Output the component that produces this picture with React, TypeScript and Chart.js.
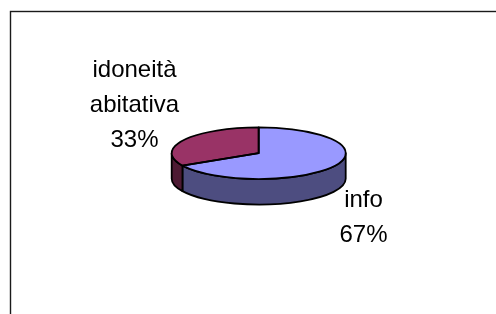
import React, { useEffect, useRef } from "react";
import { Chart, registerables } from "chart.js";

Chart.register(...registerables);

// ---- data ----
const categories = ["info", "idoneità abitativa"];
const values = [67, 33];
const topColors = ["#9999FF", "#993366"];
const sideColors = ["#4D4D80", "#4D1A33"];

// ---- layout / style ----
const W = 496;
const H = 314;
const TILT = 0.297; // vertical squash of the pie
const DEPTH = 25.5; // px height of the 3D wall
const OUTLINE = 1.8;
const FONT = '24px "Liberation Sans", Arial, sans-serif';
const LINE_H = 35;
// label anchor (center x, first baseline) per category
const labelPos = [
  { x: 363.5, y: 207.3 },
  { x: 134.5, y: 77.3 },
];

function frontSegments(a0: number, a1: number): [number, number][] {
  const out: [number, number][] = [];
  for (let k = -1; k <= 1; k++) {
    const lo = 2 * Math.PI * k;
    const hi = lo + Math.PI;
    const s = Math.max(a0, lo);
    const e = Math.min(a1, hi);
    if (e > s + 1e-6) out.push([s, e]);
  }
  return out;
}

const pie3d = {
  id: "pie3d",
  beforeDraw(chart: any) {
    const ctx = chart.ctx;
    ctx.save();
    ctx.fillStyle = "#ffffff";
    ctx.fillRect(0, 0, W, H);
    ctx.strokeStyle = "#1a1a1a";
    ctx.lineWidth = 1.4;
    ctx.strokeRect(10.5, 11.5, W + 20, H + 20);
    ctx.restore();
  },
  beforeDatasetsDraw(chart: any) {
    const ctx = chart.ctx;
    const meta = chart.getDatasetMeta(0);
    const arcs = meta.data;
    if (!arcs.length) return;
    const cx = arcs[0].x;
    const cy = arcs[0].y;
    const D = DEPTH / TILT;
    arcs.forEach((arc: any, i: number) => {
      const p = arc.getProps(["startAngle", "endAngle", "outerRadius"], true);
      const segs = frontSegments(p.startAngle, p.endAngle);
      segs.forEach(([s, e]) => {
        ctx.save();
        ctx.translate(cx, cy);
        ctx.scale(1, TILT);
        ctx.translate(-cx, -cy);
        ctx.beginPath();
        ctx.arc(cx, cy, p.outerRadius, s, e, false);
        ctx.arc(cx, cy + D, p.outerRadius, e, s, true);
        ctx.closePath();
        ctx.restore();
        ctx.save();
        ctx.fillStyle = sideColors[i % sideColors.length];
        ctx.fill();
        ctx.strokeStyle = "#000";
        ctx.lineWidth = OUTLINE;
        ctx.lineJoin = "round";
        ctx.stroke();
        ctx.restore();
      });
    });
    // squash the top faces drawn by Chart.js
    ctx.save();
    ctx.translate(cx, cy);
    ctx.scale(1, TILT);
    ctx.translate(-cx, -cy);
  },
  afterDatasetsDraw(chart: any) {
    const ctx = chart.ctx;
    const meta = chart.getDatasetMeta(0);
    const arcs = meta.data;
    if (!arcs.length) return;
    ctx.restore();
    const cx = arcs[0].x;
    const cy = arcs[0].y;
    arcs.forEach((arc: any) => {
      const p = arc.getProps(["startAngle", "endAngle", "outerRadius"], true);
      ctx.save();
      ctx.translate(cx, cy);
      ctx.scale(1, TILT);
      ctx.translate(-cx, -cy);
      ctx.beginPath();
      ctx.moveTo(cx, cy);
      ctx.arc(cx, cy, p.outerRadius, p.startAngle, p.endAngle, false);
      ctx.closePath();
      ctx.restore();
      ctx.save();
      ctx.strokeStyle = "#000";
      ctx.lineWidth = OUTLINE;
      ctx.lineJoin = "round";
      ctx.stroke();
      ctx.restore();
    });
    // labels
    const data: number[] = chart.data.datasets[0].data;
    const total = data.reduce((a, b) => a + b, 0);
    ctx.save();
    ctx.font = FONT;
    ctx.fillStyle = "#000";
    ctx.textAlign = "center";
    ctx.textBaseline = "alphabetic";
    (chart.data.labels as string[]).forEach((lab, i) => {
      const pct = Math.round((data[i] / total) * 100) + "%";
      const lines = [...lab.split(" "), pct];
      const pos = labelPos[i];
      lines.forEach((t, j) => ctx.fillText(t, pos.x, pos.y + j * LINE_H));
    });
    ctx.restore();
  },
};

export default function App() {
  const ref = useRef<HTMLCanvasElement | null>(null);
  useEffect(() => {
    if (!ref.current) return;
    const chart = new Chart(ref.current, {
      type: "pie",
      data: {
        labels: categories,
        datasets: [
          {
            data: values,
            backgroundColor: topColors,
            borderWidth: 0,
            clip: false as any,
          },
        ],
      },
      options: {
        responsive: false,
        animation: false,
        devicePixelRatio: 1,
        events: [],
        layout: {
          padding: { left: 171.7, right: 150.3, top: 66.2, bottom: 73.8 },
        },
        plugins: {
          legend: { display: false },
          tooltip: { enabled: false },
        },
      },
      plugins: [pie3d],
    });
    return () => chart.destroy();
  }, []);
  return (
    <div style={{ position: "absolute", left: 0, top: 0, width: W, height: H }}>
      <canvas ref={ref} width={W} height={H} style={{ display: "block" }} />
    </div>
  );
}
